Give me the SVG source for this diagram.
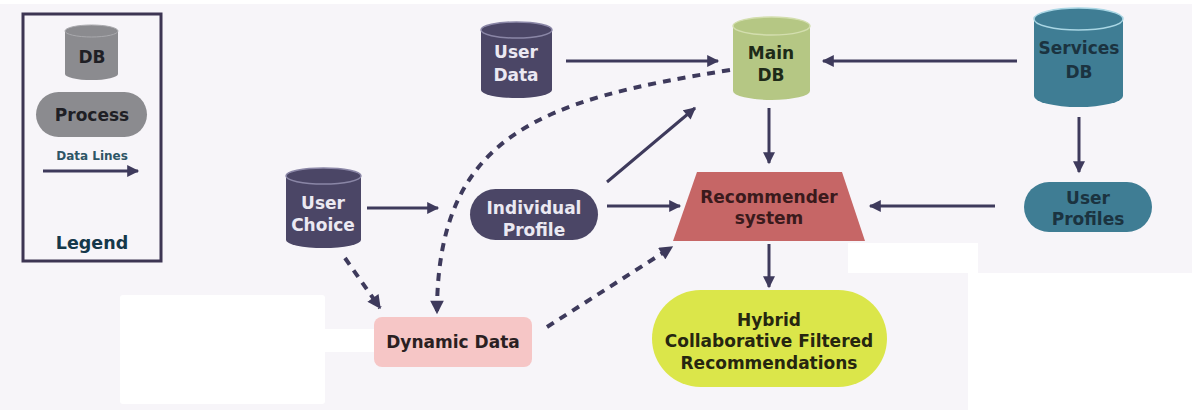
<svg xmlns="http://www.w3.org/2000/svg" width="1192" height="410" viewBox="0 0 1192 410">
  <style>
    .lbl { font-family: "DejaVu Sans", "Liberation Sans", sans-serif; font-weight: bold; font-size: 17px; text-anchor: middle; }
    .light { fill: #ebe9f2; }
    .dark { fill: #1f1d24; }
    .line { fill: none; stroke: #3e3a5c; stroke-width: 3; }
    .dash { fill: none; stroke: #3e3a5c; stroke-width: 4; stroke-dasharray: 8 7; }
  </style>
  <defs>
    <marker id="arrow" viewBox="0 0 10 10" refX="9" refY="5" markerWidth="4.4" markerHeight="4" orient="auto" markerUnits="strokeWidth">
      <path d="M0,0 L10,5 L0,10 z" fill="#3e3a5c"/>
    </marker>
    <marker id="arrowD" viewBox="0 0 10 10" refX="9" refY="5" markerWidth="3.6" markerHeight="3.4" orient="auto" markerUnits="strokeWidth">
      <path d="M0,0 L10,5 L0,10 z" fill="#3e3a5c"/>
    </marker>
  </defs>

  <!-- canvas -->
  <rect x="0" y="0" width="1192" height="410" fill="#ffffff"/>
  <rect x="0" y="4" width="1192" height="406" fill="#f7f5f9"/>
  <!-- blank panels -->
  <rect x="120" y="295" width="205" height="109" rx="3" fill="#ffffff"/>
  <rect x="320" y="329" width="54" height="23" fill="#ffffff"/>
  <rect x="848" y="243" width="130" height="30" fill="#ffffff"/>
  <rect x="968" y="273" width="224" height="137" fill="#ffffff"/>

  <!-- legend -->
  <g id="legend">
    <rect x="23" y="14" width="138" height="247" fill="none" stroke="#3d3553" stroke-width="3"/>
    <path d="M65,31 L65,74 A26,6 0 0 0 118,74 L118,31 z" fill="#8b8b8f"/>
    <ellipse cx="91.5" cy="31" rx="26.5" ry="6" fill="#8b8b8f" stroke="#a9a9ad" stroke-width="1"/>
    <text x="92" y="63" class="lbl" fill="#1f1f25">DB</text>
    <rect x="36" y="92" width="111" height="45" rx="22.5" fill="#8b8b8f"/>
    <text x="92" y="121" class="lbl" fill="#1f1f25">Process</text>
    <text x="92" y="160" class="lbl" style="font-size:12px" fill="#2e5566">Data Lines</text>
    <line x1="43" y1="171" x2="138" y2="171" class="line" marker-end="url(#arrow)"/>
    <text x="92" y="249" class="lbl" style="font-size:17.5px" fill="#15384a">Legend</text>
  </g>

  <!-- connectors -->
  <g id="connectors">
    <line x1="566" y1="61" x2="718" y2="61" class="line" marker-end="url(#arrow)"/>
    <line x1="1017" y1="61" x2="823" y2="61" class="line" marker-end="url(#arrow)"/>
    <line x1="769" y1="108" x2="769" y2="163" class="line" marker-end="url(#arrow)"/>
    <line x1="1079" y1="117" x2="1079" y2="172" class="line" marker-end="url(#arrow)"/>
    <line x1="995" y1="206" x2="870" y2="206" class="line" marker-end="url(#arrow)"/>
    <line x1="607" y1="206" x2="680" y2="206" class="line" marker-end="url(#arrow)"/>
    <line x1="607" y1="182" x2="695" y2="108" class="line" marker-end="url(#arrow)"/>
    <line x1="367" y1="208" x2="438" y2="208" class="line" marker-end="url(#arrow)"/>
    <line x1="769" y1="244" x2="769" y2="287" class="line" marker-end="url(#arrow)"/>
    <path d="M730,70 C540,100 437,135 437,313" class="dash" marker-end="url(#arrowD)"/>
    <line x1="345" y1="258" x2="380" y2="308" class="dash" marker-end="url(#arrowD)"/>
    <line x1="547" y1="327" x2="672" y2="247" class="dash" marker-end="url(#arrowD)"/>
  </g>

  <!-- databases -->
  <g id="user-data">
    <path d="M481,30 L481,90 A35.5,8 0 0 0 552,90 L552,30 z" fill="#4b4666"/>
    <ellipse cx="516.5" cy="30" rx="35.5" ry="8" fill="#4b4666" stroke="#8a86a6" stroke-width="1.5"/>
    <text x="516" y="58" class="lbl light">User</text>
    <text x="516" y="81" class="lbl light">Data</text>
  </g>
  <g id="main-db">
    <path d="M733,26 L733,91 A38.5,9 0 0 0 810,91 L810,26 z" fill="#b5c784"/>
    <ellipse cx="771.5" cy="26" rx="38.5" ry="9" fill="#b5c784" stroke="#d3deae" stroke-width="1.5"/>
    <text x="771" y="59" class="lbl" fill="#1e2a18">Main</text>
    <text x="771" y="81" class="lbl" fill="#1e2a18">DB</text>
  </g>
  <g id="services-db">
    <path d="M1034,19 L1034,96 A44.5,11 0 0 0 1123,96 L1123,19 z" fill="#3f7d94"/>
    <ellipse cx="1078.5" cy="19" rx="44.5" ry="11" fill="#3f7d94" stroke="#a9d6e4" stroke-width="1.5"/>
    <text x="1079" y="54" class="lbl" fill="#1b3340">Services</text>
    <text x="1079" y="78" class="lbl" fill="#1b3340">DB</text>
  </g>
  <g id="user-choice">
    <path d="M286,176 L286,240 A37.5,8 0 0 0 361,240 L361,176 z" fill="#4b4666"/>
    <ellipse cx="323.5" cy="176" rx="37.5" ry="8" fill="#4b4666" stroke="#8a86a6" stroke-width="1.5"/>
    <text x="323" y="209" class="lbl light">User</text>
    <text x="323" y="231" class="lbl light">Choice</text>
  </g>

  <!-- processes -->
  <g id="individual-profile">
    <rect x="470" y="189" width="128" height="51" rx="25.5" fill="#4b4666"/>
    <text x="534" y="214" class="lbl light">Individual</text>
    <text x="534" y="236" class="lbl light">Profile</text>
  </g>
  <g id="user-profiles">
    <rect x="1024" y="182" width="128" height="50" rx="25" fill="#3f7d94"/>
    <text x="1088" y="204" class="lbl" fill="#1b3340">User</text>
    <text x="1088" y="225" class="lbl" fill="#1b3340">Profiles</text>
  </g>
  <g id="recommender">
    <path d="M697,172 L842,172 L865,241 L673,241 z" fill="#c66666"/>
    <text x="769" y="203" class="lbl" fill="#3a1a1c">Recommender</text>
    <text x="769" y="224" class="lbl" fill="#3a1a1c">system</text>
  </g>
  <g id="dynamic-data">
    <rect x="374" y="317" width="158" height="50" rx="8" fill="#f6c6c6"/>
    <text x="453" y="348" class="lbl" fill="#2a1f22">Dynamic Data</text>
  </g>
  <g id="hybrid-recommendations">
    <rect x="652" y="290" width="235" height="97" rx="48.5" fill="#dbe64a"/>
    <text x="769" y="326" class="lbl" fill="#262610">Hybrid</text>
    <text x="769" y="347" class="lbl" fill="#262610">Collaborative Filtered</text>
    <text x="769" y="369" class="lbl" fill="#262610">Recommendations</text>
  </g>
</svg>
